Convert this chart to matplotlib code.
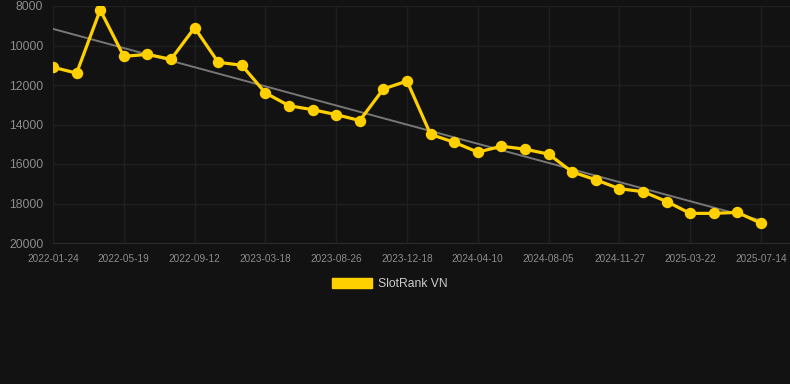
import numpy as np
import matplotlib
matplotlib.use("Agg")
import matplotlib.pyplot as plt
from matplotlib.patches import Patch

# Data (rank values, lower = better; y axis inverted)
values = [11100, 11400, 8200, 10550, 10450, 10700, 9100, 10850, 11000, 12400,
          13050, 13250, 13500, 13800, 12200, 11800, 14500, 14900, 15400, 15100,
          15250, 15500, 16400, 16800, 17250, 17400, 17900, 18500, 18500, 18450,
          19000]
tick_labels = ["2022-01-24", "2022-05-19", "2022-09-12", "2023-03-18",
               "2023-08-26", "2023-12-18", "2024-04-10", "2024-08-05",
               "2024-11-27", "2025-03-22", "2025-07-14"]
tick_step = 3
y_ticks = [8000, 10000, 12000, 14000, 16000, 18000, 20000]
series_name = "SlotRank VN"

bg = "#121212"
gold = "#FFD000"
grid_c = "#1f1f1f"
txt_c = "#8c8c8c"

W, H = 790, 384
fig = plt.figure(figsize=(W / 100, H / 100), dpi=100, facecolor=bg)
left, right, top, bottom = 53, 790, 6, 243
ax = fig.add_axes([left / W, 1 - bottom / H, (right - left) / W, (bottom - top) / H])
ax.set_facecolor(bg)

x = np.arange(len(values))
# trend line (linear regression)
coef = np.polyfit(x, values, 1)
ax.plot(x, np.polyval(coef, x), color="#777777", lw=1.4, zorder=2)
ax.plot(x, values, color=gold, lw=2.3, marker="o", markersize=7.2,
        markerfacecolor=gold, markeredgecolor=gold, zorder=3)

px_per_cat = (761 - left) / (len(values) - 1)
ax.set_xlim(0, (right - left) / px_per_cat)
ax.set_ylim(20000, 8000)

ax.set_yticks(y_ticks)
ax.set_yticklabels([str(v) for v in y_ticks])
ax.set_xticks(x[::tick_step])
ax.set_xticklabels(tick_labels)

for lab in ax.get_yticklabels():
    lab.set_fontfamily("Liberation Sans")
    lab.set_fontsize(8.7)
    lab.set_color(txt_c)
for lab in ax.get_xticklabels():
    lab.set_fontfamily("Liberation Sans")
    lab.set_fontsize(7.2)
    lab.set_color(txt_c)

ax.tick_params(axis="y", length=0, pad=7)
ax.tick_params(axis="x", length=0, pad=8)
ax.grid(True, color=grid_c, lw=1.0)
ax.set_axisbelow(True)
for s in ["top", "right", "left"]:
    ax.spines[s].set_visible(False)
ax.spines["bottom"].set_color("#2a2a2a")

leg = fig.legend(handles=[Patch(facecolor=gold, edgecolor=gold, label=series_name)],
                 loc="center", bbox_to_anchor=(390 / W, 1 - 284 / H), frameon=False,
                 handlelength=3.3, handleheight=0.9, handletextpad=0.55,
                 prop={"family": "Liberation Sans", "size": 8.7})
for t in leg.get_texts():
    t.set_color("#cccccc")

fig.savefig("out.png", dpi=100, facecolor=bg)
